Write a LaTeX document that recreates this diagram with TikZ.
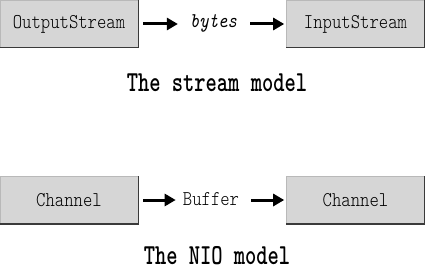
\documentclass[tikz,border=0pt]{standalone}
\usepackage{fontspec}
\usetikzlibrary{arrows.meta,positioning}
\newfontfamily\boxfont[FakeStretch=0.85]{Latin Modern Mono Light}
\newfontfamily\titlefont[FakeStretch=0.74]{Latin Modern Mono Light}
\newfontfamily\flowfont[FakeStretch=0.85]{Latin Modern Mono}
\definecolor{BoxFill}{HTML}{D6D6D6}
\definecolor{BoxEdge}{HTML}{3A3A3A}

\tikzset{
  classbox/.style={fill=BoxFill, draw=gray!55, line width=0.6pt,
    minimum width=138pt, minimum height=47pt, inner sep=0pt,
    font=\fontsize{21}{21}\selectfont\boxfont},
  shade edge/.style={draw=BoxEdge, line width=1.4pt},
  flow/.style={-{Triangle[length=11pt,width=12pt]}, line width=3pt,
    shorten <=5pt},
  flowlabel/.style={inner sep=0pt, font=\fontsize{21}{21}\selectfont\boxfont},
  caption/.style={font=\fontsize{29}{29}\selectfont\titlefont\bfseries}
}

\begin{document}
\begin{tikzpicture}[x=1pt, y=-1pt]
  \useasboundingbox (0,0) rectangle (425,270);

  %% stream model
  \node[classbox] (out)  at (69, 24)   {OutputStream};
  \node[classbox] (in)   at (355.5, 24) {InputStream};
  \node[flowlabel] (bytes) at (213.5, 23) {\flowfont\itshape bytes};
  \draw[shade edge] (out.north east) -- (out.south east) -- (out.south west);
  \draw[shade edge] (in.north east) -- (in.south east) -- (in.south west);
  \draw[flow, shorten >=12pt] (out.east) -- (out.east -| bytes.west);
  \draw[flow, shorten <=13pt, shorten >=2pt] (bytes.east |- in.west) -- (in.west);
  \node[caption] (streamcap) at (217, 83) {The stream model};

  %% NIO model
  \node[classbox] (src)  at (69, 200)   {Channel};
  \node[classbox] (dst)  at (355.5, 200) {Channel};
  \node[flowlabel] (buf) at (211, 199) {Buffer};
  \draw[shade edge] (src.north east) -- (src.south east) -- (src.south west);
  \draw[shade edge] (dst.north east) -- (dst.south east) -- (dst.south west);
  \draw[flow, shorten >=7pt] (src.east) -- (src.east -| buf.west);
  \draw[flow, shorten <=12pt, shorten >=2pt] (buf.east |- dst.west) -- (dst.west);
  \node[caption] (niocap) at (217, 256) {The NIO model};
\end{tikzpicture}
\end{document}
